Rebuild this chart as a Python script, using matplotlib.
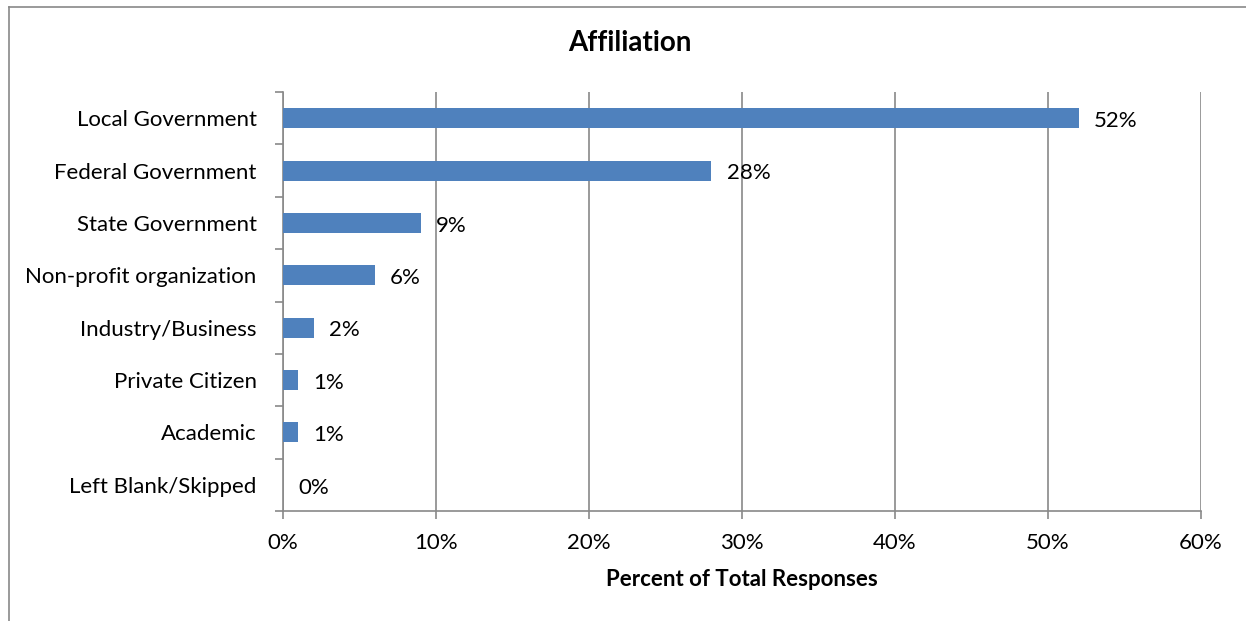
import matplotlib.pyplot as plt
from matplotlib.lines import Line2D
import numpy as np

categories = ["Local Government", "Federal Government", "State Government",
              "Non-profit organization", "Industry/Business", "Private Citizen",
              "Academic", "Left Blank/Skipped"]
percents = [52, 28, 9, 6, 2, 1, 1, 0]
xticks = [0, 10, 20, 30, 40, 50, 60]

plt.rcParams['font.family'] = ['Lato', 'DejaVu Sans']
gray = '#898989'
blue = '#4F81BD'

fig = plt.figure(figsize=(12.46, 6.21), dpi=100)
ax = fig.add_axes([283 / 1246, 1 - 511 / 621, 918 / 1246, 419 / 621])

y = np.arange(len(categories))
ax.barh(y, percents, height=0.38, color=blue, zorder=3)
for yi, p in zip(y, percents):
    ax.annotate(f"{p}%", (p, yi), xytext=(11, -2), textcoords='offset points',
                va='center', ha='left', fontsize=16, color='black')

ax.set_ylim(len(categories) - 0.5, -0.5)
ax.set_xlim(0, 60)
ax.set_yticks(y)
ax.set_yticklabels(categories, fontsize=16)
ax.set_yticks(np.arange(len(categories) + 1) - 0.5, minor=True)
ax.tick_params(axis='y', which='major', length=0, pad=19)
ax.tick_params(axis='y', which='minor', length=6, color=gray, width=1.2)
ax.set_xticks(xticks)
ax.set_xticklabels([f"{t}%" for t in xticks], fontsize=16)
ax.tick_params(axis='x', length=6, color=gray, width=1.2, pad=10)
ax.xaxis.grid(True, color=gray, linewidth=1.2, zorder=0)

for s in ['top', 'right']:
    ax.spines[s].set_visible(False)
ax.spines['left'].set_color(gray)
ax.spines['bottom'].set_color(gray)
ax.spines['left'].set_linewidth(1.2)
ax.spines['bottom'].set_linewidth(1.2)

ax.set_xlabel("Percent of Total Responses", fontsize=16, fontweight='bold', labelpad=11)
fig.text(630 / 1246, 1 - 43 / 621, "Affiliation", ha='center', va='center',
         fontsize=20, fontweight='bold')

# outer chart border
fig.add_artist(Line2D([9 / 1246, 9 / 1246], [0, 1 - 7 / 621], color=gray, linewidth=1.2))
fig.add_artist(Line2D([9 / 1246, 1], [1 - 7 / 621, 1 - 7 / 621], color=gray, linewidth=1.2))

fig.savefig("out.png", dpi=100)
